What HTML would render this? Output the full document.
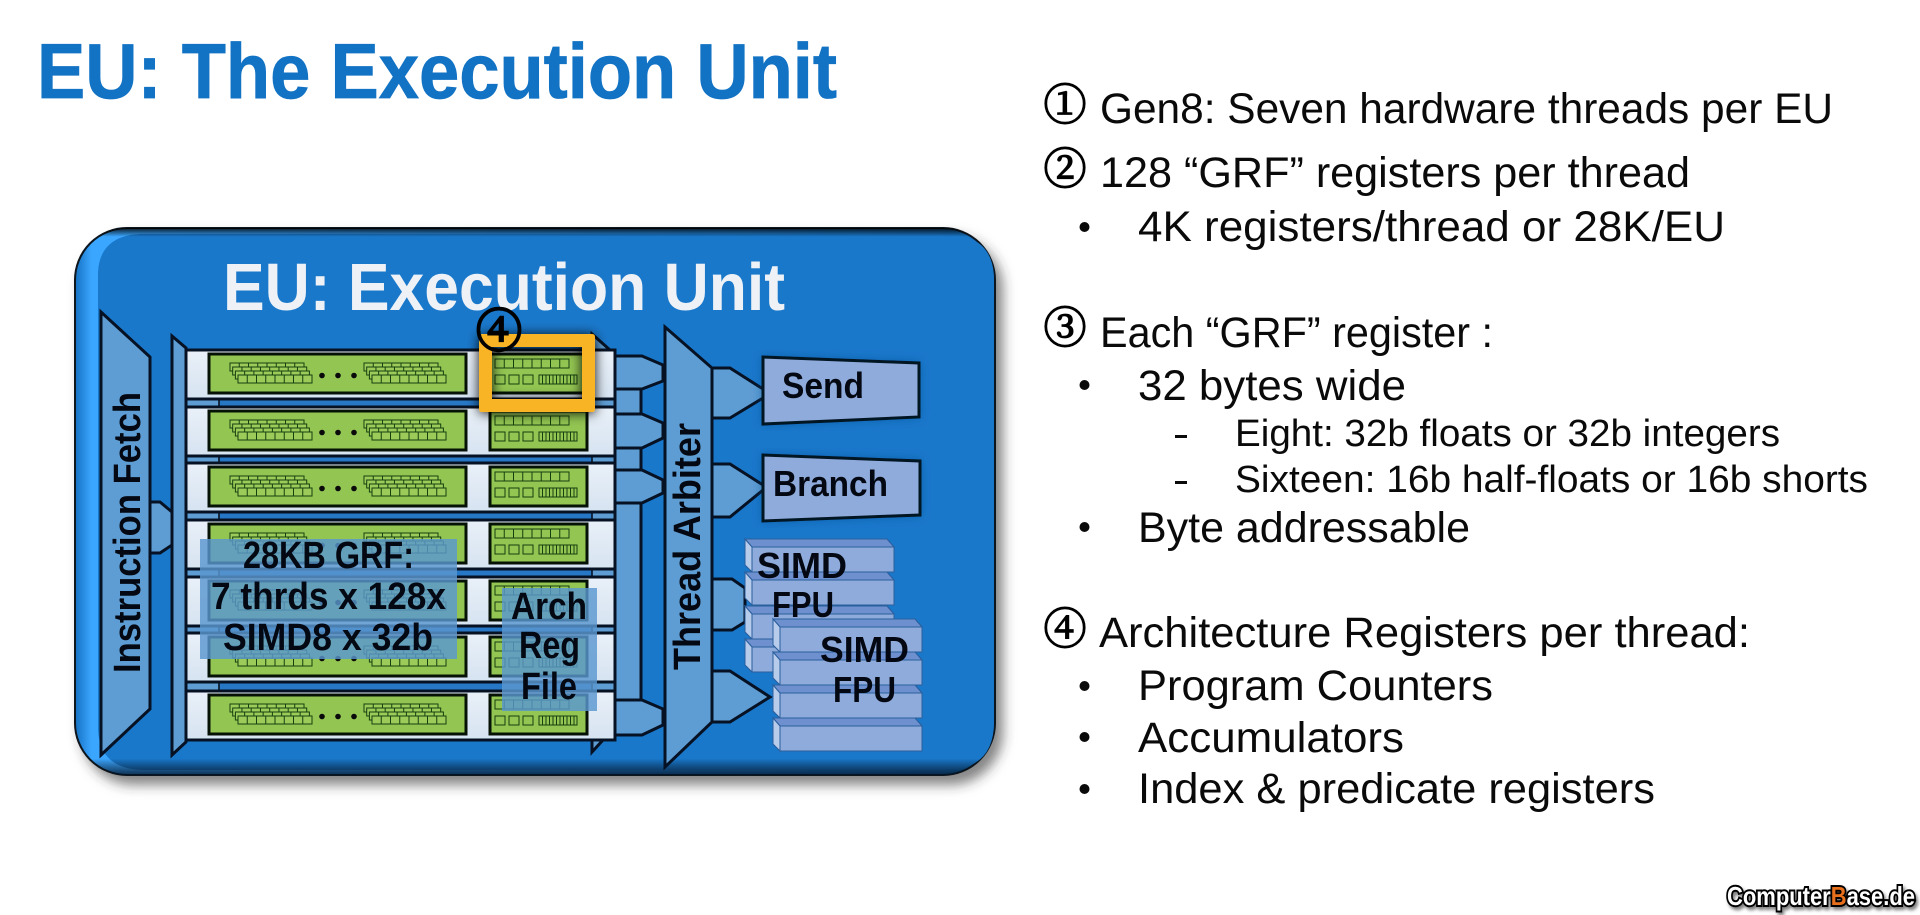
<!DOCTYPE html>
<html lang="en"><head><meta charset="utf-8"><title>EU: The Execution Unit</title>
<style>
html,body{margin:0;padding:0;background:#fff;width:1920px;height:915px;overflow:hidden}
svg{display:block}
text{font-family:"Liberation Sans",sans-serif}
.t{font-size:43px;fill:#0a0a0a}
.s{font-size:38px;fill:#0a0a0a}
.b{font-weight:bold;fill:#040812}
.n{font-family:"Noto Serif CJK SC","Noto Sans CJK SC",serif;font-size:43px;fill:#000;text-anchor:middle;stroke:#000;stroke-width:1.5px}
</style></head>
<body>
<svg width="1920" height="915" viewBox="0 0 1920 915" xmlns="http://www.w3.org/2000/svg">
<defs>
<linearGradient id="hg" x1="0" x2="1" y1="0" y2="0">
<stop offset="0" stop-color="#1570c0"/><stop offset=".018" stop-color="#3ba6ff"/><stop offset=".06" stop-color="#3ba6ff"/><stop offset=".985" stop-color="#1873c2"/><stop offset="1" stop-color="#0c4f8e"/>
</linearGradient>
<linearGradient id="vg" x1="0" x2="0" y1="0" y2="1">
<stop offset="0" stop-color="#000" stop-opacity=".85"/><stop offset=".016" stop-color="#000" stop-opacity="0"/><stop offset=".97" stop-color="#000" stop-opacity="0"/><stop offset="1" stop-color="#02152c" stop-opacity=".8"/>
</linearGradient>
<linearGradient id="rowg" x1="0" x2="0" y1="0" y2="1"><stop offset="0" stop-color="#e9f0f8"/><stop offset="1" stop-color="#d6e3f1"/></linearGradient>
<filter id="ps" x="-5%" y="-5%" width="112%" height="115%"><feDropShadow dx="7" dy="9" stdDeviation="6" flood-color="#333" flood-opacity=".6"/></filter>
<filter id="os" x="-30%" y="-30%" width="160%" height="160%"><feDropShadow dx="0" dy="1" stdDeviation="6" flood-color="#000" flood-opacity=".95"/></filter>
<filter id="bs" x="-10%" y="-10%" width="120%" height="120%"><feDropShadow dx="0" dy="0" stdDeviation="5" flood-color="#0a4a90" flood-opacity=".5"/></filter>
<filter id="ws" x="-5%" y="-20%" width="110%" height="160%"><feDropShadow dx="2" dy="3" stdDeviation="1.500" flood-color="#000" flood-opacity=".5"/></filter>
<path id="c8" d="M0 0h74v8h-74zM9.25 0v8M18.5 0v8M27.75 0v8M37 0v8M46.25 0v8M55.5 0v8M64.75 0v8" fill="#9ccb5a" stroke="#15400f" stroke-width="1"/>
<g id="st">
<use href="#c8" x="0" y="0"/><use href="#c8" x="2.7" y="4"/><use href="#c8" x="5.4" y="8"/><use href="#c8" x="8" y="12"/>
</g>
<g id="row">
<rect x="186" y="0" width="429" height="49" fill="url(#rowg)" stroke="#061224" stroke-width="3"/>
<rect x="209" y="4" width="257" height="39" fill="#93c552" stroke="#061206" stroke-width="3"/>
<rect x="490" y="4" width="97" height="39" fill="#93c552" stroke="#061206" stroke-width="3"/>
<use href="#st" x="230" y="13"/><use href="#st" x="364" y="13"/>
<circle cx="322" cy="25.5" r="2.8" fill="#0a0a0a"/><circle cx="338" cy="25.5" r="2.8" fill="#0a0a0a"/><circle cx="354" cy="25.5" r="2.8" fill="#0a0a0a"/>
<g fill="none" stroke="#15400f" stroke-width="1">
<path d="M495 9h74v9h-74zM504.25 9v9M513.5 9v9M522.75 9v9M532 9v9M541.25 9v9M550.5 9v9M559.75 9v9"/>
<rect x="495" y="25" width="10" height="9"/><rect x="509" y="25" width="10" height="9"/><rect x="523" y="25" width="10" height="9"/>
<path d="M539 25h38v9h-38zM542.5 25v9M546 25v9M549.5 25v9M553 25v9M556.5 25v9M560 25v9M563.5 25v9M567 25v9M570.5 25v9M574 25v9"/>
</g>
</g>
<g id="slab">
<polygon points="0,0 142,0 149,8 149,33 7,33 0,26" fill="#8fabdb" stroke="#2a5f9e" stroke-width="1"/>
<polygon points="0,0 142,0 149,8 7,8" fill="#6f90cf" stroke="#2a5f9e" stroke-width="1"/>
<polygon points="0,0 7,8 7,33 0,26" fill="#b7cbea" stroke="#2a5f9e" stroke-width="1"/>
</g>
</defs>

<!-- heading -->
<text x="37" y="98" font-size="78" font-weight="bold" fill="#1272c4" stroke="#1272c4" stroke-width=".8" textLength="800" lengthAdjust="spacingAndGlyphs">EU: The Execution Unit</text>

<!-- panel -->
<rect x="75" y="228" width="920" height="547" rx="52" fill="url(#hg)" stroke="#08121e" stroke-width="2" filter="url(#ps)"/>
<path d="M98 272 Q100 236 140 234 H944 Q994 234 994 280 V722 Q994 770 944 770 H145 Q100 770 98 730 Z" fill="#1a78cb"/>
<rect x="75" y="228" width="920" height="547" rx="52" fill="url(#vg)"/>
<text x="223" y="310" font-size="67" font-weight="bold" fill="#eef2f6" textLength="562" lengthAdjust="spacingAndGlyphs">EU: Execution Unit</text>

<g stroke="#061224" stroke-width="3" stroke-linejoin="miter" fill="#5e9dd3">
<!-- instruction fetch -->
<polygon points="101,312 150,357 150,709 101,755"/>
<polygon points="150,502 160,502 172,512 172,545 160,553 150,553"/>
<!-- rear planes -->
<polygon points="172,336 186,348 186,742 172,755"/>
<polygon points="592,334 610,350 603,740 592,752"/>
<rect x="186" y="350" width="429" height="390"/>
<rect x="219" y="350" width="373" height="390" fill="#2677c6" stroke-width="1.6"/>
<!-- right strip -->
<rect x="615" y="385" width="26" height="320"/>
<!-- connectors -->
<polygon points="615,356 642,356 663,365 663,381 642,389 615,389"/>
<polygon points="615,414 642,414 663,423 663,438 642,448 615,448"/>
<polygon points="615,470 642,470 663,480 663,493 642,503 615,503"/>
<polygon points="615,700 642,700 663,709 663,725 642,735 615,735"/>
<!-- arbiter outputs -->
<polygon points="712,368 730,368 763,389 763,398 730,418 712,418"/>
<polygon points="712,464 730,464 763,485 763,490 730,517 712,517"/>
<polygon points="712,579 732,579 745,588 745,622 732,630 712,630"/>
<polygon points="712,671 730,671 770,697 730,722 712,722"/>
<!-- arbiter -->
<polygon points="665,327 712,368 712,722 665,767"/>
</g>
<text class="b" transform="rotate(-90 140 673)" x="140" y="673" font-size="38" textLength="281" lengthAdjust="spacingAndGlyphs">Instruction Fetch</text>
<text class="b" transform="rotate(-90 700 670)" x="700" y="670" font-size="38" textLength="247" lengthAdjust="spacingAndGlyphs">Thread Arbiter</text>

<!-- rows -->
<use href="#row" y="350"/><use href="#row" y="407"/><use href="#row" y="463"/><use href="#row" y="520"/><use href="#row" y="577"/><use href="#row" y="633"/><use href="#row" y="691"/>

<!-- send / branch -->
<polygon points="763,357 919,363 919,417 763,424" fill="#8fabdb" stroke="#061224" stroke-width="3" filter="url(#bs)"/>
<polygon points="763,455 920,461 920,515 763,521" fill="#8fabdb" stroke="#061224" stroke-width="3" filter="url(#bs)"/>
<text class="b" x="782" y="398" font-size="36" textLength="82" lengthAdjust="spacingAndGlyphs">Send</text>
<text class="b" x="773" y="496" font-size="36" textLength="115" lengthAdjust="spacingAndGlyphs">Branch</text>

<!-- SIMD stacks -->
<use href="#slab" x="745" y="539"/><use href="#slab" x="745" y="572"/><use href="#slab" x="745" y="606"/><use href="#slab" x="745" y="639"/>
<text class="b" x="757" y="578" font-size="36" textLength="90" lengthAdjust="spacingAndGlyphs">SIMD</text>
<text class="b" x="772" y="617" font-size="36" textLength="62" lengthAdjust="spacingAndGlyphs">FPU</text>
<use href="#slab" x="773" y="619"/><use href="#slab" x="773" y="652"/><use href="#slab" x="773" y="685"/><use href="#slab" x="773" y="718"/>
<text class="b" x="820" y="662" font-size="36" textLength="89" lengthAdjust="spacingAndGlyphs">SIMD</text>
<text class="b" x="833" y="702" font-size="36" textLength="63" lengthAdjust="spacingAndGlyphs">FPU</text>

<!-- overlays -->
<rect x="200" y="539" width="257" height="120" fill="#5a97cf" fill-opacity=".82"/>
<text class="b" x="243" y="568" font-size="38" textLength="171" lengthAdjust="spacingAndGlyphs">28KB GRF:</text>
<text class="b" x="211" y="609" font-size="38" textLength="235" lengthAdjust="spacingAndGlyphs">7 thrds x 128x</text>
<text class="b" x="223" y="650" font-size="38" textLength="210" lengthAdjust="spacingAndGlyphs">SIMD8 x 32b</text>
<rect x="502" y="588" width="95" height="123" fill="#5a97cf" fill-opacity=".82"/>
<text class="b" x="511" y="619" font-size="38" textLength="76" lengthAdjust="spacingAndGlyphs">Arch</text>
<text class="b" x="519" y="658" font-size="38" textLength="61" lengthAdjust="spacingAndGlyphs">Reg</text>
<text class="b" x="521" y="699" font-size="38" textLength="56" lengthAdjust="spacingAndGlyphs">File</text>

<!-- orange highlight -->
<path d="M482 334h110q3 0 3 3v72q0 3-3 3h-110q-3 0-3-3v-72q0-3 3-3zM492 347v52h90v-52z" fill="#f9b428" fill-rule="evenodd" filter="url(#os)"/>
<text x="499" y="347" class="n" style="font-size:46px;stroke-width:2.4px">④</text>

<!-- right column -->
<text x="1065" y="120" class="n">①</text>
<text class="t" x="1100" y="123" textLength="733" lengthAdjust="spacingAndGlyphs">Gen8: Seven hardware threads per EU</text>
<text x="1065" y="184" class="n">②</text>
<text class="t" x="1100" y="187" textLength="590" lengthAdjust="spacingAndGlyphs">128 “GRF” registers per thread</text>
<circle cx="1084.5" cy="227" r="5" fill="#0a0a0a"/>
<text class="t" x="1138" y="241" textLength="587" lengthAdjust="spacingAndGlyphs">4K registers/thread or 28K/EU</text>
<text x="1065" y="343" class="n">③</text>
<text class="t" x="1100" y="347" textLength="393" lengthAdjust="spacingAndGlyphs">Each “GRF” register :</text>
<circle cx="1084.5" cy="385" r="5" fill="#0a0a0a"/>
<text class="t" x="1138" y="400" textLength="268" lengthAdjust="spacingAndGlyphs">32 bytes wide</text>
<rect x="1175" y="435" width="12" height="3" fill="#0a0a0a"/>
<text class="s" x="1235" y="446" textLength="545" lengthAdjust="spacingAndGlyphs">Eight: 32b floats or 32b integers</text>
<rect x="1175" y="481" width="12" height="3" fill="#0a0a0a"/>
<text class="s" x="1235" y="492" textLength="633" lengthAdjust="spacingAndGlyphs">Sixteen: 16b half-floats or 16b shorts</text>
<circle cx="1084.5" cy="527" r="5" fill="#0a0a0a"/>
<text class="t" x="1138" y="542" textLength="332" lengthAdjust="spacingAndGlyphs">Byte addressable</text>
<text x="1065" y="644" class="n">④</text>
<text class="t" x="1099" y="647" textLength="651" lengthAdjust="spacingAndGlyphs">Architecture Registers per thread:</text>
<circle cx="1084.5" cy="686" r="5" fill="#0a0a0a"/>
<text class="t" x="1138" y="700" textLength="355" lengthAdjust="spacingAndGlyphs">Program Counters</text>
<circle cx="1084.5" cy="737" r="5" fill="#0a0a0a"/>
<text class="t" x="1138" y="752" textLength="266" lengthAdjust="spacingAndGlyphs">Accumulators</text>
<circle cx="1084.5" cy="789" r="5" fill="#0a0a0a"/>
<text class="t" x="1138" y="803" textLength="517" lengthAdjust="spacingAndGlyphs">Index &amp; predicate registers</text>

<!-- watermark -->
<text x="1727" y="905" font-size="26" font-weight="bold" fill="#fff" stroke="#000" stroke-width="4" paint-order="stroke" textLength="188" lengthAdjust="spacingAndGlyphs" filter="url(#ws)">Computer<tspan fill="#e8701c">B</tspan>ase.de</text>
</svg>
</body></html>
